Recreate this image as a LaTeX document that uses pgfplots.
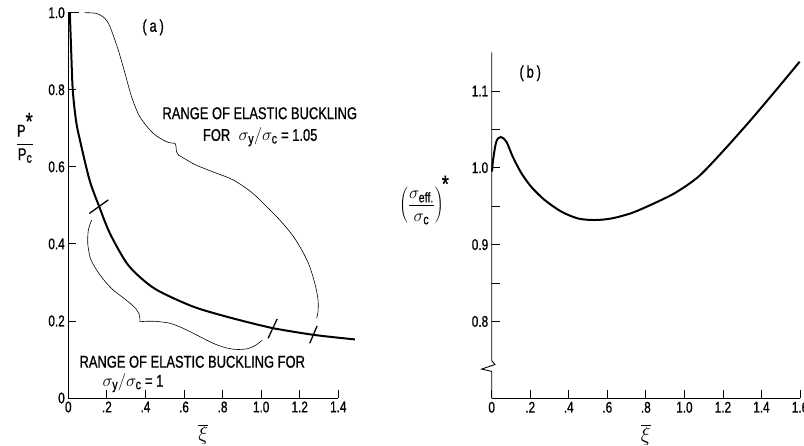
\documentclass[border=0pt]{standalone}
\usepackage{fontspec}
\setmainfont[FakeStretch=0.76, FakeBold=0.8]{Liberation Sans}
\usepackage{pgfplots}
\pgfplotsset{compat=1.18}

\newcommand\sub[1]{\hbox{\fontsize{14}{14}\selectfont #1}}
\newcommand\lettering{\fontsize{17}{19}\selectfont}
\newcommand\bigstar{\hbox{\fontsize{24}{24}\selectfont *}}

\pgfplotsset{
  panel/.style={
    scale only axis, clip=false,
    axis lines=left,
    axis line style={-, line width=0.9pt},
    tick align=inside,
    major tick length=8pt, minor tick length=8pt,
    every tick/.style={line width=0.8pt, black},
    tick label style={font=\fontsize{15.5}{15.5}\selectfont},
    /pgf/number format/assume math mode=true,
    xlabel={\fontsize{22}{22}\selectfont$\overline{\xi}$},
    xlabel style={yshift=-5pt},
  },
  curve/.style={black, line width=2pt, smooth, tension=0.5},
  envelope/.style={black, line width=0.6pt, smooth, tension=0.5},
  cross/.style={black, line width=1.3pt},
}

\begin{document}
\begin{tikzpicture}
\useasboundingbox (0,0) rectangle (804pt,446pt);

% ---------------- (a) load ratio versus imperfection ----------------
\begin{axis}[panel,
  at={(68.3pt,48pt)}, anchor=south west,
  width=270pt, height=385.3pt,
  xmin=0, xmax=1.4, ymin=0, ymax=1.0,
  xtick={0,0.2,0.4,0.6,0.8,1.0,1.2,1.4},
  xticklabels={0,.2,.4,.6,.8,1.0,1.2,1.4},
  ytick={0,0.2,0.4,0.6,0.8,1.0},
  yticklabels={0,0.2,0.4,0.6,0.8,1.0},
]
% P*/Pc
\addplot[curve] coordinates {
  (0.008,1.0) (0.015,0.90) (0.023,0.80) (0.04,0.72) (0.06,0.67)
  (0.11,0.566) (0.16,0.497) (0.216,0.427) (0.303,0.350) (0.389,0.306)
  (0.475,0.276) (0.648,0.237) (0.821,0.211) (0.993,0.189) (1.062,0.181)
  (1.27,0.164) (1.486,0.152)
};
% limits of elastic buckling marked on the curve
\addplot[cross] coordinates {(0.109,0.479) (0.207,0.514)};
\addplot[cross] coordinates {(1.036,0.155) (1.083,0.205)};
\addplot[cross] coordinates {(1.252,0.142) (1.290,0.187)};

% bracket: sigma_y/sigma_c = 1.05
\addplot[black, line width=0.6pt] coordinates {(0,1.0) (0.055,1.0)};
\addplot[envelope] coordinates {
  (0.085,1.0) (0.147,0.998) (0.19,0.985) (0.216,0.964) (0.259,0.903)
  (0.294,0.843) (0.328,0.782) (0.371,0.730) (0.44,0.687) (0.51,0.665)
  (0.553,0.661)
};
\addplot[black, line width=0.6pt] coordinates {
  (0.553,0.661) (0.558,0.655) (0.561,0.639) (0.572,0.630)
};
\addplot[envelope] coordinates {
  (0.572,0.630) (0.60,0.622) (0.66,0.605) (0.76,0.585) (0.855,0.566)
  (0.95,0.534) (1.028,0.497) (1.10,0.460) (1.166,0.420) (1.215,0.380)
  (1.252,0.341) (1.282,0.290) (1.295,0.254) (1.295,0.225) (1.288,0.207)
};

% bracket: sigma_y/sigma_c = 1
\addplot[envelope] coordinates {
  (0.121,0.462) (0.104,0.436) (0.101,0.400) (0.115,0.362) (0.147,0.332)
  (0.190,0.303) (0.233,0.280) (0.280,0.262) (0.32,0.246) (0.350,0.232)
  (0.367,0.218)
};
\addplot[black, line width=0.6pt] coordinates {
  (0.367,0.218) (0.371,0.207) (0.371,0.198) (0.40,0.199)
};
\addplot[envelope] coordinates {
  (0.40,0.199) (0.45,0.199) (0.527,0.194) (0.59,0.182) (0.648,0.168)
  (0.751,0.142) (0.82,0.130) (0.873,0.126) (0.93,0.128) (0.975,0.138)
  (1.005,0.150)
};

\node[font=\lettering] at (axis cs:0.44,0.962) {(\,a\,)};
\node[anchor=west, font=\lettering] at (axis cs:0.47,0.739) {RANGE OF ELASTIC BUCKLING};
\node[anchor=west, font=\lettering] at (axis cs:0.68,0.677) {FOR\enspace$\sigma_{\sub{y}}/\sigma_{\sub{c}}$ = 1.05};
\node[anchor=west, font=\lettering] at (axis cs:0.04,0.094) {RANGE OF ELASTIC BUCKLING FOR};
\node[anchor=west, font=\lettering] at (axis cs:0.16,0.039) {$\sigma_{\sub{y}}/\sigma_{\sub{c}}$ = 1};
\node[font=\lettering] at (axis cs:-0.224,0.675)
  {$\displaystyle\frac{\hbox{P}^{\bigstar}}{\hbox{P}_{\sub{c}}}$};
\end{axis}

% ---------------- (b) effective stress ratio ----------------
\begin{axis}[panel,
  at={(491.7pt,47.7pt)}, anchor=south west,
  width=308.3pt, height=345.8pt,
  xmin=0, xmax=1.6, ymin=0.70, ymax=1.15,
  y axis line style={draw=none},
  xtick={0,0.2,0.4,0.6,0.8,1.0,1.2,1.4,1.6},
  xticklabels={0,.2,.4,.6,.8,1.0,1.2,1.4,1.6},
  ytick={0.8,0.9,1.0,1.1},
  yticklabels={0.8,0.9,1.0,1.1},
  minor ytick={0.85,0.95,1.05},
]
% vertical axis with a break below 0.75
\draw[line width=0.9pt] (axis cs:0,1.15) -- (axis cs:0,0.749)
  -- (axis cs:0.017,0.744) -- (axis cs:-0.052,0.738)
  -- (axis cs:0,0.735) -- (axis cs:0,0.70);

\addplot[curve] coordinates {
  (0.002,0.995) (0.007,1.010) (0.024,1.034) (0.047,1.040) (0.076,1.034)
  (0.110,1.014) (0.154,0.993) (0.206,0.975) (0.275,0.958) (0.361,0.943)
  (0.448,0.934) (0.534,0.932) (0.621,0.934) (0.725,0.941) (0.828,0.952)
  (0.950,0.967) (1.071,0.988) (1.191,1.019) (1.330,1.058) (1.469,1.099)
  (1.598,1.138)
};

\node[font=\lettering] at (axis cs:0.20,1.123) {(\,b\,)};
\node[font=\lettering, inner sep=0pt] at (axis cs:-0.35,0.958)
  {$\displaystyle\left(\frac{\sigma_{\sub{eff.}}}{\sigma_{\sub{c}}}\right)^{\!\bigstar}$};
\end{axis}
\end{tikzpicture}
\end{document}
